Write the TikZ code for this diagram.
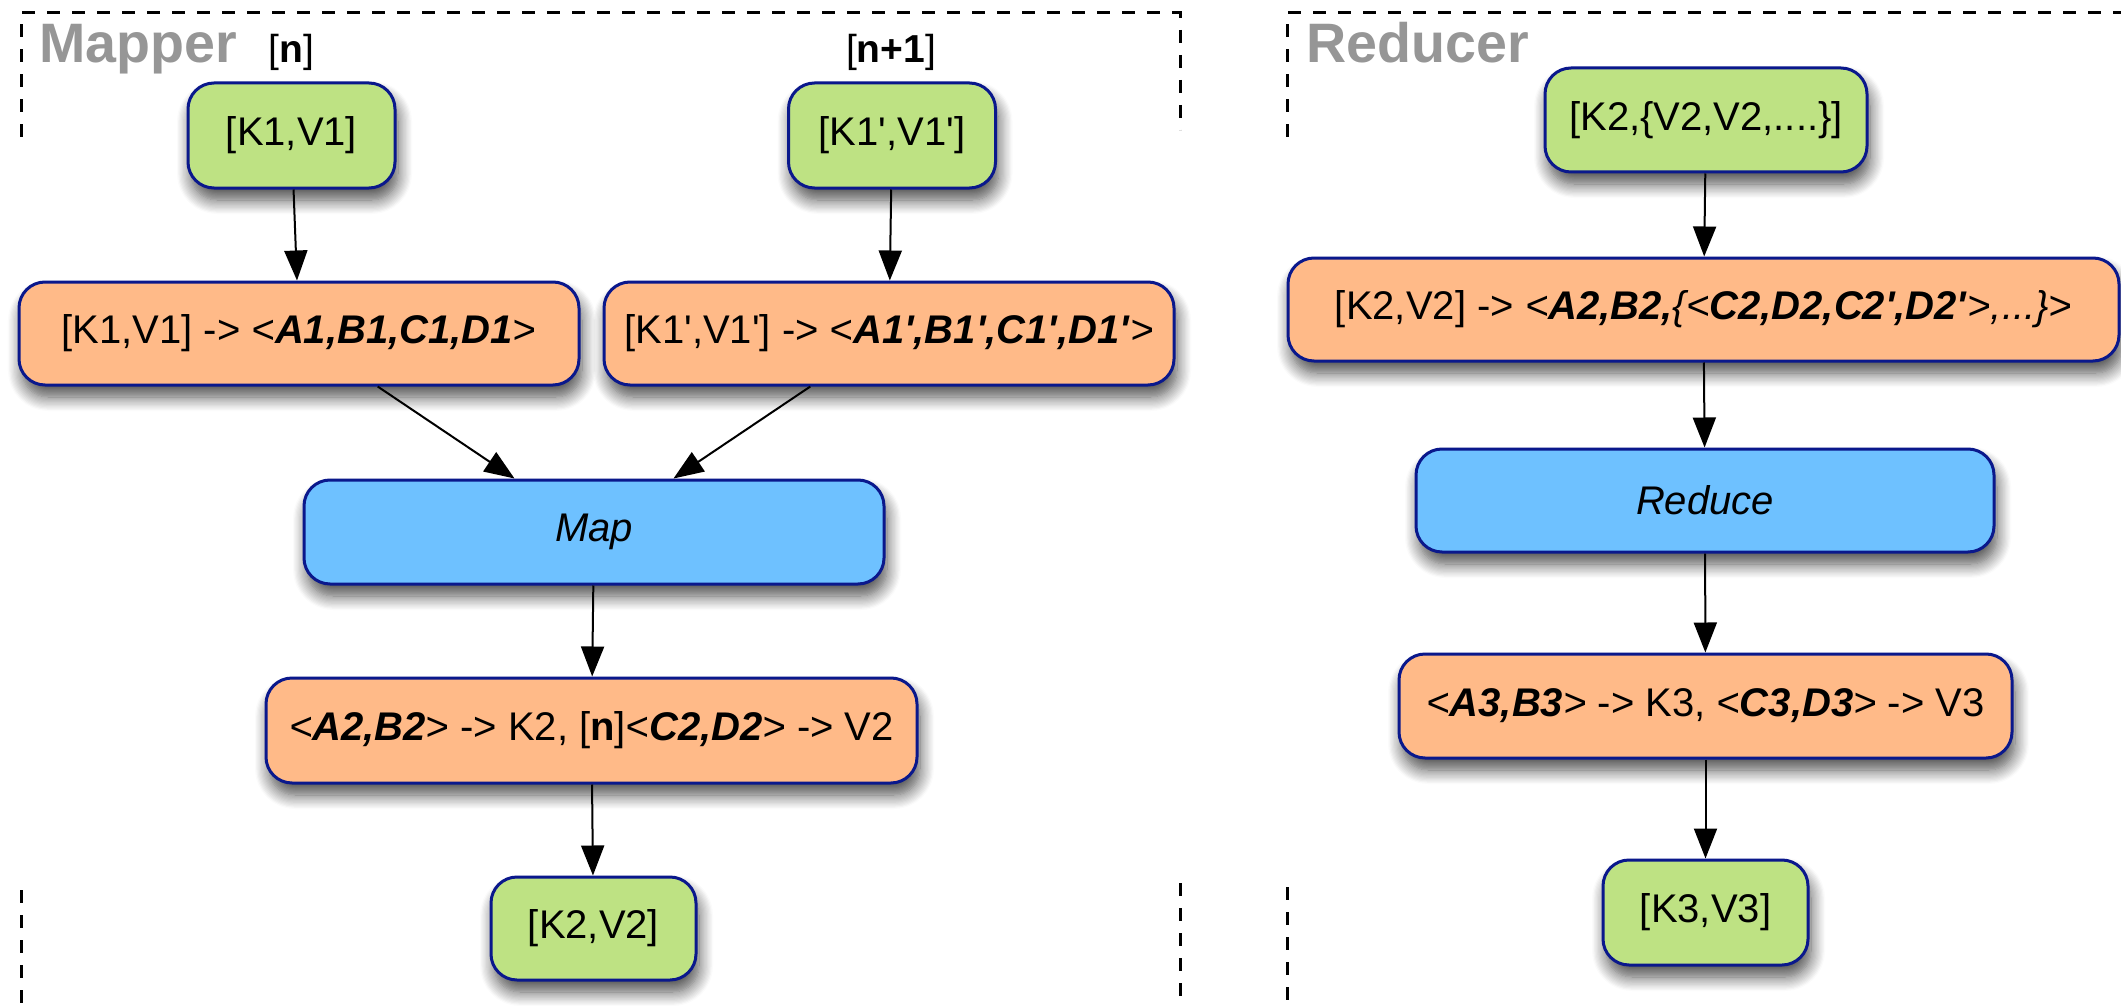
\documentclass[tikz,border=0pt]{standalone}
\usepackage{fontspec}
\usetikzlibrary{arrows.meta,shadows.blur}
\newfontfamily\hv{Liberation Sans}
\newcommand\nodefont{\hv\fontsize{20pt}{24pt}\selectfont}
\newcommand\titlefont{\hv\bfseries\fontsize{27.8pt}{30pt}\selectfont}
\newcommand\idxfont{\hv\fontsize{19.5pt}{22pt}\selectfont}
\newcommand\bi[1]{\textbf{\textit{#1}}}
\newcommand\ang[1]{\textit{<}\bi{#1}\textit{>}}
\newcommand\ap{\char"0027\relax}
\definecolor{kvgreen}{RGB}{190,226,131}
\definecolor{fnorange}{RGB}{255,186,136}
\definecolor{opblue}{RGB}{110,193,255}
\definecolor{navy}{RGB}{10,24,140}
\definecolor{titlegray}{RGB}{150,150,150}
\tikzset{
  box/.style={draw=navy, line width=1.5pt, rounded corners=13pt, inner sep=0pt,
    align=center, font=\nodefont,
    blur shadow={shadow xshift=1.5pt, shadow yshift=-6pt, shadow blur radius=7pt,
      shadow blur steps=12, shadow opacity=70}},
  gbox/.style={box, fill=kvgreen},
  obox/.style={box, fill=fnorange},
  bbox/.style={box, fill=opblue},
  flow/.style={line width=1pt, -{Triangle[length=15pt,width=11.5pt]}},
  frame/.style={line width=1.5pt, dash pattern=on 6.5pt off 6pt},
  title/.style={font=\titlefont, text=titlegray, inner sep=0pt, anchor=base west},
  idx/.style={font=\idxfont, inner sep=0pt, anchor=base},
}
\begin{document}
\begin{tikzpicture}[x=0.5pt, y=-0.5pt]
\useasboundingbox (0,0) rectangle (2121,1006);

% dashed frames of the two stages
\draw[frame] (21,137) -- (21,13) -- (1180,13) -- (1180,130);
\draw[frame] (21,890) -- (21,1006);
\draw[frame] (1180,883) -- (1180,1006);
\draw[frame] (1287,137) -- (1287,13) -- (2121,13);
\draw[frame] (1287,887) -- (1287,1006);

\node[title] (mapT) at (39,63) {Mapper};
\node[title] (redT) at (1306,63) {Reducer};
\node[idx] (idxA) at (291.5,63) {[\textbf{n}]};
\node[idx] (idxB) at (891,63) {[\textbf{n+1}]};

% mapper
\node[gbox, minimum width=103.5pt, minimum height=52.5pt] (k1) at (291.5,135.5) {[K1,V1]};
\node[gbox, minimum width=103.5pt, minimum height=52.5pt] (k1p) at (892,135.5) {[K1\ap,V1\ap]};
\node[obox, minimum width=280pt, minimum height=51.5pt] (o1) at (299,333.5)
  {[K1,V1] -> \ang{A1,B1,C1,D1}};
\node[obox, minimum width=285pt, minimum height=51.5pt] (o2) at (889,333.5)
  {[K1\ap,V1\ap] -> \ang{A1\ap,B1\ap,C1\ap,D1\ap}};
\node[bbox, minimum width=290pt, minimum height=52pt] (map) at (594,532) {\textit{Map}};
\node[obox, minimum width=325.5pt, minimum height=52.5pt] (o3) at (591.5,730.5)
  {\ang{A2,B2} -> K2, [\textbf{n}]\ang{C2,D2} -> V2};
\node[gbox, minimum width=102.5pt, minimum height=51.5pt] (k2) at (593.5,928.5) {[K2,V2]};

\draw[flow] (k1) -- (o1);
\draw[flow] (k1p) -- (o2);
\draw[flow] (o1) -- (map);
\draw[flow] (o2) -- (map);
\draw[flow] (map) -- (o3);
\draw[flow] (o3) -- (k2);

% reducer
\node[gbox, minimum width=161pt, minimum height=52pt] (r1) at (1706,120) {[K2,\{V2,V2,....\}]};
\node[obox, minimum width=415.5pt, minimum height=51.5pt] (r2) at (1703.5,309.5)
  {[K2,V2] -> \textit{<}\bi{A2,B2,}\textit{\{<}\bi{C2,D2,C2\ap,D2\ap}\textit{>,...\}>}};
\node[bbox, minimum width=289pt, minimum height=51.5pt] (red) at (1705,500.5) {\textit{Reduce}};
\node[obox, minimum width=306.5pt, minimum height=52pt] (r3) at (1705.5,706)
  {\ang{A3,B3} -> K3, \ang{C3,D3} -> V3};
\node[gbox, minimum width=102.5pt, minimum height=52.5pt] (r4) at (1705.5,912.5) {[K3,V3]};

\draw[flow] (r1) -- (r2);
\draw[flow] (r2) -- (red);
\draw[flow] (red) -- (r3);
\draw[flow] (r3) -- (r4);
\end{tikzpicture}
\end{document}
